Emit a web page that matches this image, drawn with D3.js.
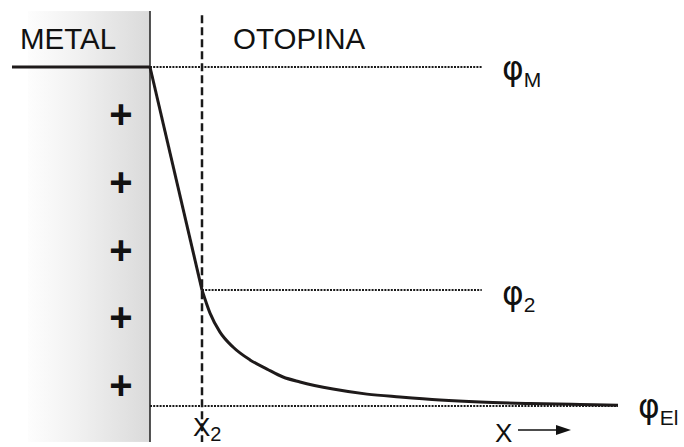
<!DOCTYPE html>
<html>
<head>
<meta charset="utf-8">
<script src="https://cdn.jsdelivr.net/npm/d3@7"></script>
<style>
  html, body { margin: 0; padding: 0; background: #fff; }
  svg { display: block; }
  text { font-family: "Liberation Sans", Arial, sans-serif; fill: #111; }
</style>
</head>
<body>
<svg id="chart" width="684" height="447"></svg>
<script>
// ---- data (distance from metal surface in arbitrary units, potential normalised) ----
const regionLabels = ["METAL", "OTOPINA"];
const potentialNames = ["M", "2", "El"];
const potentialValues = [1.0, 0.342, 0.0];
const x2Value = 1.0;
const profileX = [0, 1.0, 1.154, 1.346, 1.596, 1.923, 2.25, 2.558, 2.885, 3.519, 4.173, 4.808, 5.577, 6.346, 7.31, 8.27, 9.0];
const profileY = [1.0, 0.342, 0.274, 0.218, 0.174, 0.136, 0.109, 0.0855, 0.0708, 0.050, 0.035, 0.0265, 0.0177, 0.0118, 0.0074, 0.0044, 0.0024];
const charges = ["+", "+", "+", "+", "+"];

const svg = d3.select("#chart");
const x = d3.scaleLinear().domain([0, 9]).range([150, 618]);
const y = d3.scaleLinear().domain([0, 1]).range([406, 67]);

// metal block with gradient
const defs = svg.append("defs");
const grad = defs.append("linearGradient").attr("id", "metalGrad")
  .attr("x1", "0%").attr("x2", "100%").attr("y1", "0%").attr("y2", "0%");
grad.append("stop").attr("offset", "0%").attr("stop-color", "#fdfdfd");
grad.append("stop").attr("offset", "40%").attr("stop-color", "#f1f1f1");
grad.append("stop").attr("offset", "100%").attr("stop-color", "#dadada");

svg.append("rect")
  .attr("x", x(-2.346)).attr("y", y(1.165))
  .attr("width", x(0) - x(-2.346)).attr("height", y(-0.106) - y(1.165))
  .attr("fill", "url(#metalGrad)");

svg.append("line")
  .attr("x1", x(0)).attr("x2", x(0)).attr("y1", y(1.165)).attr("y2", y(-0.106))
  .attr("stroke", "#2a2a2a").attr("stroke-width", 1.6);

// dotted potential reference lines
const dotEnds = [6.38, 6.38, 9.0];
const dotStarts = [0, x2Value, 0];
potentialValues.forEach((v, i) => {
  svg.append("line")
    .attr("x1", x(dotStarts[i])).attr("x2", x(dotEnds[i]))
    .attr("y1", y(v)).attr("y2", y(v))
    .attr("stroke", "#1a1a1a").attr("stroke-width", 2)
    .attr("stroke-dasharray", "2,1.2");
});

// dashed vertical at x2
svg.append("line")
  .attr("x1", x(x2Value)).attr("x2", x(x2Value))
  .attr("y1", y(1.153)).attr("y2", y(-0.106))
  .attr("stroke", "#1a1a1a").attr("stroke-width", 2.5)
  .attr("stroke-dasharray", "8,4");

// metal potential line
svg.append("line")
  .attr("x1", x(-2.654)).attr("x2", x(0))
  .attr("y1", y(1)).attr("y2", y(1))
  .attr("stroke", "#1e1a1a").attr("stroke-width", 3);

// potential profile
const pts = profileX.map((d, i) => [d, profileY[i]]);
const lin = pts.slice(0, 2);
const tail = pts.slice(1);
const lineGen = d3.line().x(d => x(d[0])).y(d => y(d[1]));
svg.append("path").attr("d", lineGen(lin))
  .attr("fill", "none").attr("stroke", "#1e1a1a").attr("stroke-width", 3);
svg.append("path").attr("d", lineGen.curve(d3.curveMonotoneX)(tail))
  .attr("fill", "none").attr("stroke", "#1e1a1a").attr("stroke-width", 3);

// charges
const cy = d3.scalePoint().domain(d3.range(charges.length)).range([114, 385]);
svg.selectAll("text.charge").data(charges).enter().append("text")
  .attr("class", "charge")
  .attr("x", 121).attr("y", (d, i) => cy(i))
  .attr("text-anchor", "middle").attr("dominant-baseline", "central")
  .attr("font-size", 40).attr("font-weight", "bold").text(d => d);

// region labels
svg.append("text").attr("x", 20).attr("y", 49).attr("font-size", 29.5).text(regionLabels[0]);
svg.append("text").attr("x", 233).attr("y", 49).attr("font-size", 29.5).text(regionLabels[1]);

// phi labels
const phiBase = [80, 305, 418];
const phiX = [502, 502, 638];
potentialNames.forEach((n, i) => {
  const t = svg.append("text").attr("x", phiX[i]).attr("y", phiBase[i]);
  t.append("tspan").attr("font-family", "DejaVu Sans").attr("font-size", 33).text("φ");
  t.append("tspan").attr("font-size", 21).attr("dy", 7).text(n);
});

// x2 label
const xl = svg.append("text").attr("x", x(x2Value) - 9).attr("y", 436);
xl.append("tspan").attr("font-size", 26).text("X");
xl.append("tspan").attr("font-size", 20).attr("dy", 5).text("2");

// x axis label + arrow
svg.append("text").attr("x", 495).attr("y", 442).attr("font-size", 26).text("X");
svg.append("line").attr("x1", 518).attr("x2", 558).attr("y1", 430).attr("y2", 430)
  .attr("stroke", "#111").attr("stroke-width", 1.5);
svg.append("path").attr("d", "M556,425 L571,430 L556,435 Z").attr("fill", "#111");
</script>
</body>
</html>
